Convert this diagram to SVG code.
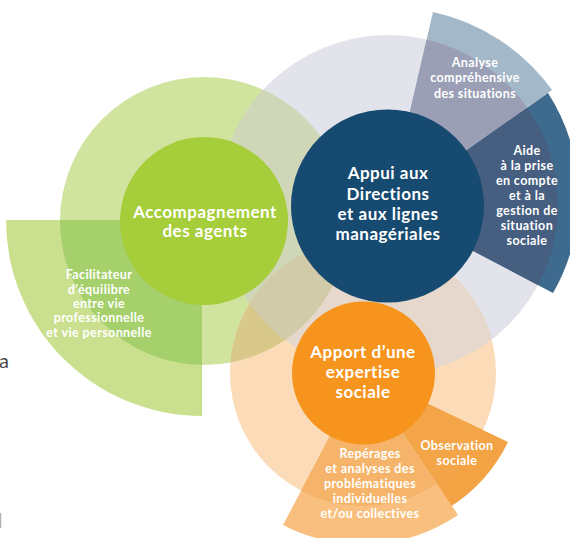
<svg xmlns="http://www.w3.org/2000/svg" width="570" height="538" viewBox="0 0 570 538">
<style>
text{font-family:Lato,"Open Sans","Liberation Sans",sans-serif;font-weight:bold;fill:#fff;text-anchor:middle}
.big{font-size:17px;letter-spacing:0.5px}
.sm{font-size:12.5px;letter-spacing:0.4px}
.frag{fill:#4a4a4a;text-anchor:start;font-weight:normal;font-size:20px}
</style>
<defs>
<clipPath id="cG"><circle cx="204" cy="221" r="144"/></clipPath>
<clipPath id="cB"><circle cx="388" cy="205" r="170"/></clipPath>
<clipPath id="cO"><circle cx="363" cy="373" r="133"/></clipPath>
<path id="pFac" d="M202,220 L6,220 A196,196 0 0 0 202,416 Z"/>
<path id="pAna" d="M388,206 L433,12 A200,200 0 0 1 552,90 Z"/>
<path id="pAide" d="M388,206 L548,93 A192,192 0 0 1 553,293 Z"/>
<path id="pObs" d="M363,373 L508,442 A160,160 0 0 1 450,507 Z"/>
<path id="pRep" d="M363,373 L458,515 A171,171 0 0 1 283,525 Z"/>
</defs>

<g id="rings">
<circle cx="388" cy="205" r="170" fill="#e3e4eb"/>
<circle cx="204" cy="221" r="144" fill="#d1e49f"/>
<circle cx="363" cy="373" r="133" fill="#fcdcb8"/>
<circle cx="204" cy="221" r="144" fill="#d0d7b9" clip-path="url(#cB)"/>
<circle cx="363" cy="373" r="133" fill="#e6d8cc" clip-path="url(#cB)"/>
<circle cx="363" cy="373" r="133" fill="#d8c98a" clip-path="url(#cG)"/>
<g clip-path="url(#cB)"><circle cx="363" cy="373" r="133" fill="#d2cbaa" clip-path="url(#cG)"/></g>
</g>

<g id="connectors"/>

<g id="node-facilitateur">
<use href="#pFac" fill="#cbe08e"/>
<use href="#pFac" fill="#a5d06b" clip-path="url(#cG)"/>
<text class="sm"><tspan x="99" y="279">Facilitateur</tspan><tspan x="99" y="294">d’équilibre</tspan><tspan x="99" y="308">entre vie</tspan><tspan x="99" y="322">professionnelle</tspan><tspan x="99" y="337">et vie personnelle</tspan></text>
</g>

<g id="node-analyse">
<use href="#pAna" fill="#a3b8c9"/>
<use href="#pAna" fill="#9b9fb6" clip-path="url(#cB)"/>
<text class="sm"><tspan x="475" y="67">Analyse</tspan><tspan x="475" y="82">compréhensive</tspan><tspan x="475" y="98">des situations</tspan></text>
</g>

<g id="node-aide">
<use href="#pAide" fill="#3e6a8e"/>
<use href="#pAide" fill="#465f80" clip-path="url(#cB)"/>
<text class="sm"><tspan x="527" y="155">Aide</tspan><tspan x="527" y="170">à la prise</tspan><tspan x="527" y="185">en compte</tspan><tspan x="527" y="200">et à la</tspan><tspan x="527" y="215">gestion de</tspan><tspan x="527" y="230">situation</tspan><tspan x="527" y="245">sociale</tspan></text>
</g>

<g id="node-observation">
<use href="#pObs" fill="#f3a244"/>
<use href="#pObs" fill="#f3a548" clip-path="url(#cO)"/>
<text class="sm"><tspan x="457" y="450">Observation</tspan><tspan x="457" y="465">sociale</tspan></text>
</g>

<g id="node-reperages">
<use href="#pRep" fill="#f8bf7e"/>
<use href="#pRep" fill="#f5b46a" clip-path="url(#cO)"/>
<text class="sm"><tspan x="370" y="458">Repérages</tspan><tspan x="370" y="473">et analyses des</tspan><tspan x="370" y="488">problématiques</tspan><tspan x="370" y="503">individuelles</tspan><tspan x="370" y="518">et/ou collectives</tspan></text>
</g>

<g id="node-accompagnement">
<circle cx="204" cy="221" r="84" fill="#a6cd3a"/>
<text class="big"><tspan x="205" y="218">Accompagnement</tspan><tspan x="205" y="237">des agents</tspan></text>
</g>

<g id="node-appui">
<circle cx="387.5" cy="206" r="96.5" fill="#174a70"/>
<text class="big"><tspan x="388" y="179">Appui aux</tspan><tspan x="388" y="200">Directions</tspan><tspan x="388" y="220">et aux lignes</tspan><tspan x="388" y="240">managériales</tspan></text>
</g>

<g id="node-apport">
<circle cx="363.5" cy="373" r="71.5" fill="#f7941d"/>
<text class="big"><tspan x="363" y="358">Apport d’une</tspan><tspan x="363" y="378">expertise</tspan><tspan x="363" y="398">sociale</tspan></text>
</g>

<text class="frag" x="-1" y="368">a</text>
<rect x="0" y="513" width="1.2" height="15" fill="#b0b0b0"/>
</svg>
